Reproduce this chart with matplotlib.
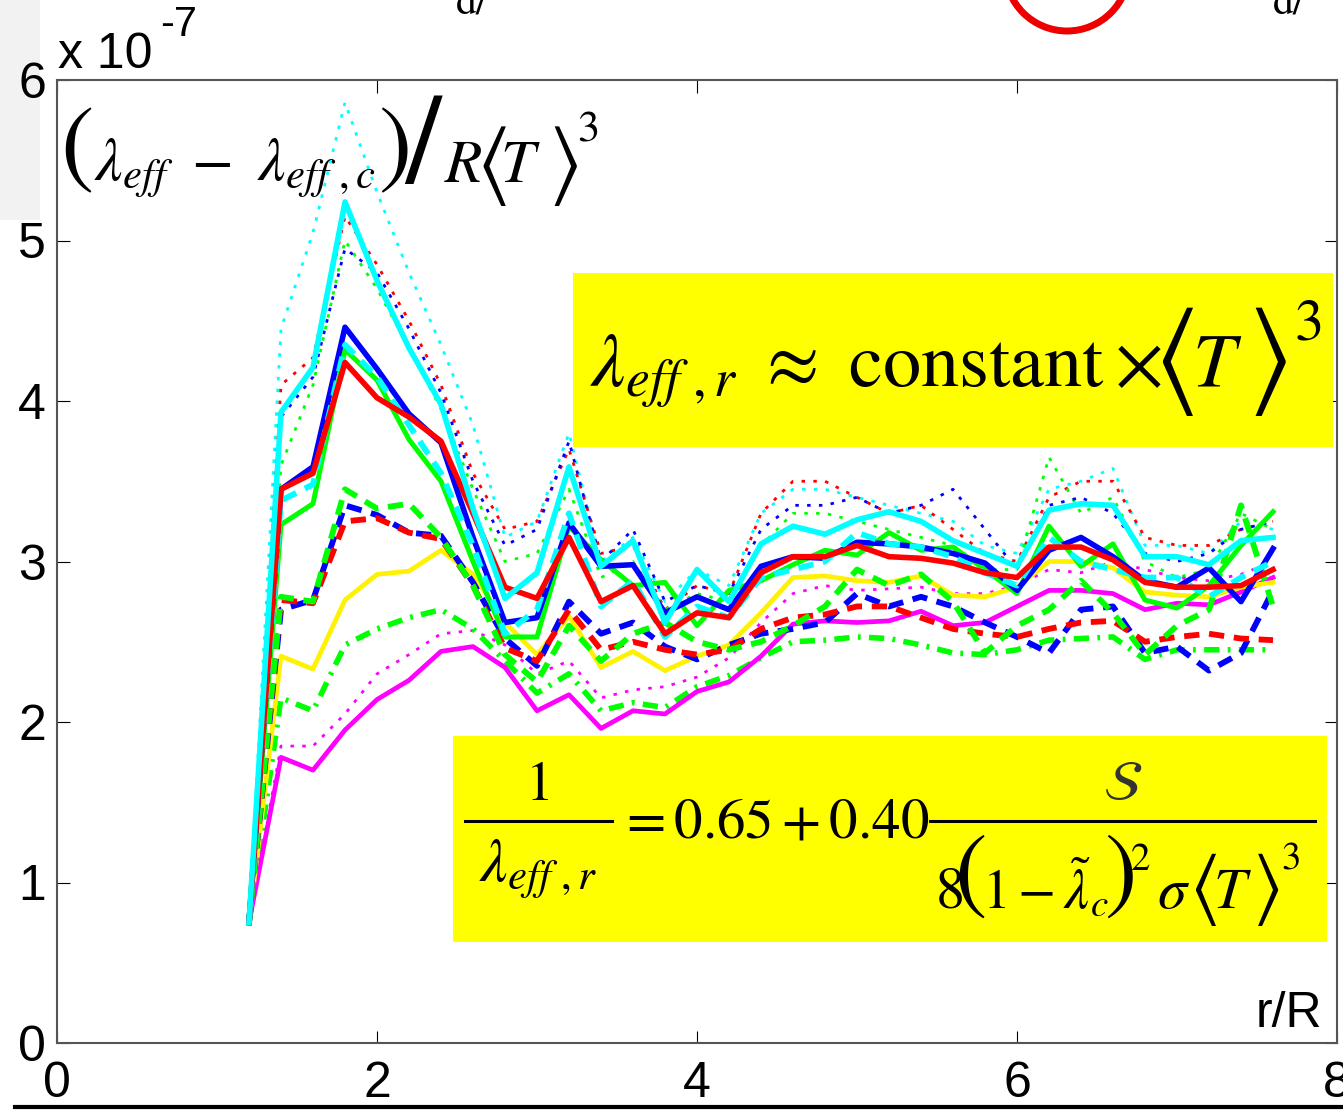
import matplotlib
matplotlib.use('Agg')
import matplotlib.pyplot as plt
from matplotlib.patches import Rectangle, Ellipse
from matplotlib.lines import Line2D

plt.rcParams['font.family'] = ['Liberation Sans', 'DejaVu Sans']
plt.rcParams['mathtext.fontset'] = 'stix'
plt.rcParams['lines.scale_dashes'] = False

# radial position r/R
r_R = [1.2, 1.4, 1.6, 1.8, 2.0, 2.2, 2.4, 2.6, 2.8, 3.0, 3.2,
       3.4, 3.6, 3.8, 4.0, 4.2, 4.4, 4.6, 4.8, 5.0, 5.2, 5.4,
       5.6, 5.8, 6.0, 6.2, 6.4, 6.6, 6.8, 7.0, 7.2, 7.4, 7.6]

# (lambda_eff - lambda_eff,c)/R<T>^3, units of 1e-7
cyan_solid = [0.75, 3.93, 4.21, 5.24, 4.75, 4.33, 3.98, 3.33, 2.77, 2.93, 3.59,
              2.97, 3.13, 2.62, 2.95, 2.75, 3.11, 3.22, 3.17, 3.26, 3.31, 3.25,
              3.13, 3.05, 2.97, 3.32, 3.36, 3.35, 3.03, 3.03, 2.98, 3.13, 3.15]
blue_solid = [0.75, 3.45, 3.59, 4.46, 4.20, 3.92, 3.74, 3.15, 2.62, 2.65, 3.24,
              2.97, 2.98, 2.68, 2.78, 2.70, 2.97, 3.03, 3.02, 3.12, 3.11, 3.09,
              3.05, 2.99, 2.82, 3.07, 3.15, 3.03, 2.88, 2.84, 2.96, 2.75, 3.08]
red_solid = [0.75, 3.45, 3.55, 4.24, 4.02, 3.90, 3.75, 3.30, 2.84, 2.77, 3.15,
             2.75, 2.85, 2.55, 2.68, 2.65, 2.93, 3.03, 3.03, 3.10, 3.03, 3.02,
             2.99, 2.93, 2.90, 3.09, 3.09, 3.01, 2.87, 2.84, 2.84, 2.85, 2.95]
green_solid = [0.75, 3.23, 3.36, 4.32, 4.13, 3.76, 3.50, 3.00, 2.53, 2.53, 3.22,
               3.01, 2.85, 2.87, 2.60, 2.82, 2.88, 2.98, 3.07, 3.04, 3.18, 3.07,
               3.09, 2.95, 2.80, 3.22, 2.97, 3.11, 2.76, 2.71, 2.85, 3.10, 3.31]
yellow_solid = [0.75, 2.41, 2.33, 2.76, 2.92, 2.94, 3.07, 2.92, 2.62, 2.42, 2.66,
                2.34, 2.44, 2.32, 2.41, 2.48, 2.68, 2.90, 2.91, 2.88, 2.87, 2.91,
                2.79, 2.78, 2.84, 3.00, 3.00, 2.96, 2.81, 2.79, 2.78, 2.84, 2.87]
magenta_solid = [0.75, 1.78, 1.70, 1.95, 2.14, 2.26, 2.44, 2.47, 2.34, 2.07, 2.17,
                 1.96, 2.07, 2.05, 2.19, 2.25, 2.41, 2.61, 2.63, 2.62, 2.63, 2.69,
                 2.60, 2.62, 2.72, 2.82, 2.82, 2.80, 2.70, 2.74, 2.73, 2.81, 2.90]
cyan_dashed = [0.75, 3.38, 3.48, 4.35, 4.15, 3.85, 3.55, 3.10, 2.55, 2.70, 3.30,
               2.72, 2.88, 2.53, 2.72, 2.65, 2.90, 2.95, 3.00, 3.18, 3.11, 3.09,
               3.03, 2.93, 2.85, 3.15, 3.00, 2.95, 2.90, 2.90, 2.78, 2.90, 3.00]
blue_dashed = [0.75, 2.70, 2.76, 3.35, 3.29, 3.18, 3.16, 2.87, 2.52, 2.35, 2.75,
               2.55, 2.62, 2.47, 2.39, 2.48, 2.55, 2.58, 2.62, 2.80, 2.72, 2.78,
               2.72, 2.62, 2.53, 2.43, 2.70, 2.72, 2.43, 2.47, 2.32, 2.43, 2.82]
red_dashed = [0.75, 2.76, 2.74, 3.25, 3.27, 3.18, 3.14, 2.85, 2.46, 2.38, 2.70,
              2.45, 2.50, 2.45, 2.42, 2.45, 2.58, 2.65, 2.67, 2.72, 2.72, 2.65,
              2.58, 2.55, 2.53, 2.58, 2.62, 2.63, 2.50, 2.53, 2.55, 2.52, 2.51]
green_dashed = [0.75, 2.78, 2.75, 3.45, 3.33, 3.36, 3.15, 2.85, 2.42, 2.25, 2.60,
                2.38, 2.55, 2.62, 2.50, 2.45, 2.50, 2.60, 2.72, 2.95, 2.85, 2.92,
                2.75, 2.43, 2.60, 2.70, 2.88, 2.68, 2.42, 2.60, 2.70, 3.35, 2.72]
green_dashdot = [0.75, 2.15, 2.07, 2.48, 2.58, 2.65, 2.70, 2.58, 2.38, 2.18, 2.30,
                 2.07, 2.12, 2.09, 2.22, 2.29, 2.40, 2.50, 2.51, 2.53, 2.52, 2.48,
                 2.43, 2.42, 2.45, 2.51, 2.52, 2.53, 2.39, 2.45, 2.45, 2.45, 2.45]
magenta_dotted = [0.75, 1.85, 1.85, 2.05, 2.30, 2.42, 2.55, 2.57, 2.48, 2.30, 2.38,
                  2.15, 2.20, 2.22, 2.28, 2.40, 2.62, 2.80, 2.85, 2.82, 2.83, 2.84,
                  2.80, 2.80, 2.85, 2.95, 2.93, 3.00, 2.95, 2.90, 2.88, 2.92, 3.00]
cyan_dotted = [0.75, 4.45, 5.05, 5.86, 5.30, 4.80, 4.35, 3.85, 3.15, 3.25, 3.80,
               3.00, 3.15, 2.75, 2.95, 2.85, 3.30, 3.45, 3.45, 3.40, 3.35, 3.30,
               3.25, 3.10, 3.05, 3.45, 3.50, 3.58, 3.10, 3.10, 3.05, 3.25, 3.20]
red_dotted = [0.75, 4.10, 4.27, 5.15, 4.85, 4.50, 4.10, 3.55, 3.20, 3.25, 3.70,
              3.05, 3.10, 2.70, 2.85, 2.80, 3.30, 3.50, 3.50, 3.40, 3.30, 3.35,
              3.20, 3.05, 3.00, 3.40, 3.50, 3.50, 3.15, 3.10, 3.10, 3.20, 3.25]
green_dotted = [0.75, 3.60, 4.10, 5.00, 4.70, 4.33, 3.95, 3.45, 3.00, 3.05, 3.45,
                2.90, 3.00, 2.70, 2.80, 2.75, 3.10, 3.30, 3.30, 3.25, 3.20, 3.15,
                3.10, 2.95, 2.95, 3.65, 3.30, 3.40, 3.00, 2.90, 2.95, 3.30, 3.20]
blue_dotted = [0.75, 3.90, 4.15, 4.95, 4.80, 4.45, 4.05, 3.50, 3.10, 3.20, 3.75,
               3.00, 3.20, 2.75, 2.85, 2.80, 3.20, 3.35, 3.35, 3.40, 3.30, 3.35,
               3.45, 3.20, 2.95, 3.35, 3.40, 3.30, 3.05, 3.00, 3.05, 3.20, 3.25]

x_ticks = [0, 2, 4, 6, 8]
y_ticks = [0, 1, 2, 3, 4, 5, 6]

W, H = 1343, 1111
def fx(p):
    return p / W
def fy(p):
    return 1 - p / H

fig = plt.figure(figsize=(13.43, 11.11), dpi=100)

def put(x, y, s, size, ha='left', va='baseline', **kw):
    # text placed in pixel coordinates of the figure
    kw.setdefault('zorder', 6)
    return fig.text(fx(x), fy(y), s, fontsize=size, ha=ha, va=va, **kw)

def hline(x0, x1, y, lw=2.2):
    fig.lines.append(Line2D([fx(x0), fx(x1)], [fy(y), fy(y)],
                            transform=fig.transFigure, color='black', lw=lw,
                            zorder=6))

# bits of the slide around the plot
fig.patches.append(Rectangle((0, fy(220)), fx(40), 220 / H, transform=fig.transFigure,
                             facecolor='#f2f2f2', edgecolor='none', zorder=-1))
fig.patches.append(Ellipse((fx(1067), fy(-31)), 2 * 62 / W, 2 * 62 / H,
                           transform=fig.transFigure, facecolor='none',
                           edgecolor='#ee0000', lw=5))
put(456, 14, 'd/', 30, family='STIXGeneral')
put(1273, 14, 'd/', 30, family='STIXGeneral')
hline(15, W, 1107, lw=3)

ax = fig.add_axes([fx(57), 68 / H, 1280 / W, 963 / H])
ax.set_xlim(0, 8)
ax.set_ylim(0, 6)

CY, MG, GR, YL = '#00ffff', '#ff00ff', '#00ff00', '#fff200'
dot = (0, (2.5, 6))
dash = (0, (11, 7))
dashdot = (0, (11, 6, 2, 6))

curves = [
    (cyan_dotted, CY, dot, 2.0),
    (red_dotted, 'r', dot, 2.0),
    (green_dotted, GR, dot, 2.0),
    (blue_dotted, 'b', dot, 2.0),
    (magenta_dotted, MG, dot, 2.0),
    (green_dashdot, GR, dashdot, 4.0),
    (magenta_solid, MG, '-', 3.4),
    (yellow_solid, YL, '-', 3.4),
    (blue_dashed, 'b', dash, 4.2),
    (red_dashed, 'r', dash, 4.2),
    (green_dashed, GR, dash, 4.2),
    (green_solid, GR, '-', 3.6),
    (blue_solid, 'b', '-', 4.0),
    (cyan_dashed, CY, dash, 4.2),
    (red_solid, 'r', '-', 4.0),
    (cyan_solid, CY, '-', 4.0),
]
for vals, col, ls, lw in curves:
    ax.plot(r_R, vals, color=col, ls=ls, lw=lw)

ax.set_xticks(x_ticks)
ax.set_yticks(y_ticks)
ax.tick_params(direction='in', length=9, width=0.8, top=True, right=True,
               labelsize=36)
ax.tick_params(axis='x', pad=13)
ax.tick_params(axis='y', pad=8)
for s in ax.spines.values():
    s.set_color('#555555')
    s.set_linewidth(1.5)

ax.text(0.988, 0.017, 'r/R', transform=ax.transAxes, ha='right', va='baseline',
        fontsize=36)
put(58, 68, 'x 10', 36, zorder=3)
put(160, 36, '-7', 30, zorder=3)

# quantity on the y axis: (lambda_eff - lambda_eff,c)/R<T>^3
put(77, 152, '(', 72, ha='center', va='center', family='STIXGeneral')
put(94, 181, r'$\lambda_{eff}\ -\ \lambda_{eff\ ,c}$', 44)
put(395, 152, ')', 72, ha='center', va='center', family='STIXGeneral')
put(423, 152, '/', 92, ha='center', va='center', family='STIXGeneral')
put(444, 182, r'$R$', 44)
put(491, 166, r'$\langle$', 62, ha='center', va='center')
put(500, 182, r'$T$', 44)
put(563, 166, r'$\rangle$', 62, ha='center', va='center')
put(577, 142, '3', 32, family='STIXGeneral')

# yellow boxes with the fits
ax.add_patch(Rectangle((fx(573), fy(447)), (1333 - 573) / W, (447 - 273) / H,
                       transform=fig.transFigure, facecolor='#ffff00',
                       edgecolor='none', zorder=5))
put(590, 386, r'$\lambda_{eff\ ,r}\ \approx\ \mathrm{constant}\times$', 55)
put(1174, 362, r'$\langle$', 84, ha='center', va='center')
put(1192, 386, r'$T$', 55)
put(1267, 362, r'$\rangle$', 84, ha='center', va='center')
put(1295, 340, '3', 42, family='STIXGeneral')

ax.add_patch(Rectangle((fx(453), fy(942)), (1327 - 453) / W, (942 - 736) / H,
                       transform=fig.transFigure, facecolor='#ffff00',
                       edgecolor='none', zorder=5))
# 1/lambda_eff,r = 0.65 + 0.40 S / (8(1 - lambda_c~)^2 sigma <T>^3)
put(540, 800, '1', 40, ha='center', family='STIXGeneral')
hline(465, 612, 821)
put(538, 882, r'$\lambda_{eff\ ,r}$', 44, ha='center')
put(618, 837, r'$=0.65+0.40$', 41)
hline(930, 1315, 821)
put(1123, 800, r'$\mathcal{S}$', 40, ha='center', color='#333333')
put(936, 908, '8', 42, family='STIXGeneral')
put(971, 878, '(', 70, ha='center', va='center', family='STIXGeneral')
put(982, 908, r'$1-\tilde{\lambda}_c$', 40)
put(1120, 878, ')', 70, ha='center', va='center', family='STIXGeneral')
put(1131, 870, '2', 28, family='STIXGeneral')
put(1157, 908, r'$\sigma$', 42)
put(1203, 890, r'$\langle$', 56, ha='center', va='center')
put(1213, 908, r'$T$', 42)
put(1266, 890, r'$\rangle$', 56, ha='center', va='center')
put(1281, 870, '3', 28, family='STIXGeneral')

fig.savefig('out.png', dpi=100)
